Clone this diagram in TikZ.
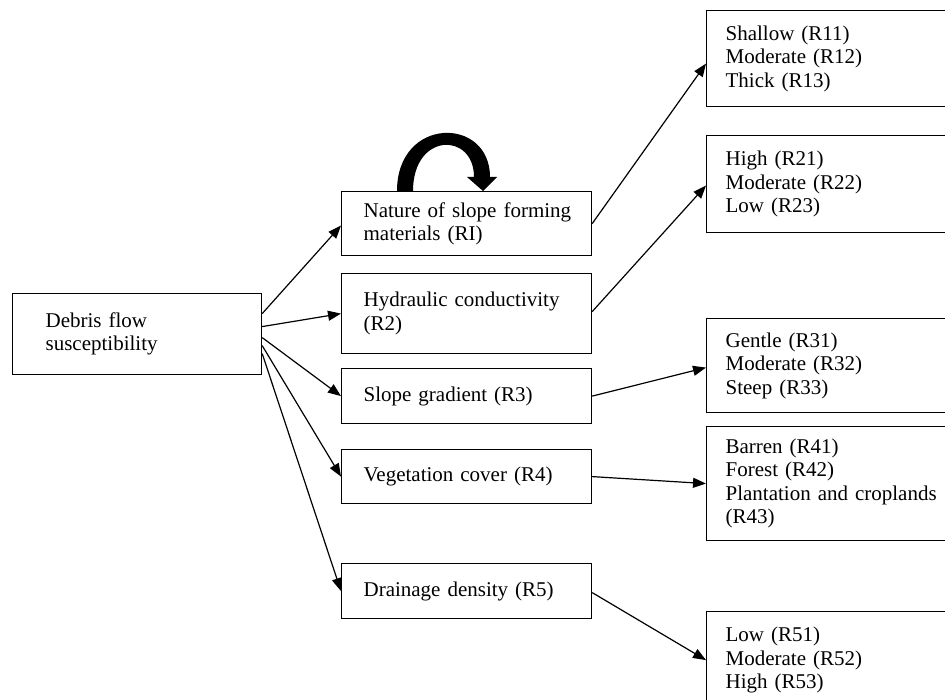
\documentclass[tikz,border=0pt]{standalone}
\usepackage{fontspec}
\setmainfont{Liberation Serif}
\usetikzlibrary{arrows.meta}
\hyphenpenalty=10000
\tikzset{
  box/.style={draw, line width=1.2pt, rectangle, anchor=north west, align=left,
    inner ysep=0pt, font=\fontsize{21}{23.5}\selectfont},
  midbox/.style={box, minimum width=250pt, inner xsep=22pt, text width=206pt},
  rbox/.style={box, minimum width=260pt, inner xsep=19pt, text width=222pt},
  arr/.style={-{Triangle[length=13pt,width=10pt]}, line width=1.2pt},
}
\begin{document}
\begin{tikzpicture}[x=1pt,y=-1pt]
\useasboundingbox (0,0) rectangle (945,700);
\fill[white] (0,0) rectangle (945,700);
\clip (0,0) rectangle (945,700);

\node[box, minimum width=249pt, minimum height=81pt, inner xsep=33pt, text width=183pt] (deb) at (12,293) {Debris flow\\susceptibility};

\node[midbox, minimum height=64pt] (r1) at (341,191) {\mbox{Nature of slope forming}\\materials (RI)};
\node[midbox, minimum height=80pt] (r2) at (341,273) {Hydraulic conductivity\\(R2)};
\node[midbox, minimum height=55pt] (r3) at (341,368) {Slope gradient (R3)};
\node[midbox, minimum height=54pt] (r4) at (341,449) {Vegetation cover (R4)};
\node[midbox, minimum height=55pt] (r5) at (341,563) {Drainage density (R5)};

\node[rbox, minimum height=96pt] (b1) at (706,10) {Shallow (R11)\\Moderate (R12)\\Thick (R13)};
\node[rbox, minimum height=97pt] (b2) at (706,135) {High (R21)\\Moderate (R22)\\Low (R23)};
\node[rbox, minimum height=94pt] (b3) at (706,318) {Gentle (R31)\\Moderate (R32)\\Steep (R33)};
\node[rbox, minimum height=114pt] (b4) at (706,426) {Barren (R41)\\Forest (R42)\\\mbox{Plantation and croplands}\\(R43)};
\node[rbox, minimum height=97pt] (b5) at (706,611) {Low (R51)\\Moderate (R52)\\High (R53)};

\draw[arr] ([yshift=20.5pt]deb.east) -- ([yshift=-2pt]r1.west);
\draw[arr] ([yshift=7.5pt]deb.east) -- (r2.west);
\draw[arr] ([yshift=-3.5pt]deb.east) -- (r3.west);
\draw[arr] ([yshift=-11.5pt]deb.east) -- (r4.west);
\draw[arr] ([yshift=-19.5pt]deb.east) -- (r5.west);

\draw[arr] (r1.east) -- ([yshift=-5pt]b1.west);
\draw[arr] ([yshift=2pt]r2.east) -- ([yshift=-1.5pt]b2.west);
\draw[arr] (r3.east) -- ([yshift=-2pt]b3.west);
\draw[arr] (r4.east) -- (b4.west);
\draw[arr] ([yshift=-1.5pt]r5.east) -- (b5.west);

% curved self arrow on top of r1
\fill[black] (397,191) .. controls (397,116) and (490,116) .. (490,177)
  -- (497,177) -- (483,191) -- (467,177) -- (474,177)
  .. controls (474,132) and (413,132) .. (413,191) -- cycle;
\end{tikzpicture}
\end{document}
